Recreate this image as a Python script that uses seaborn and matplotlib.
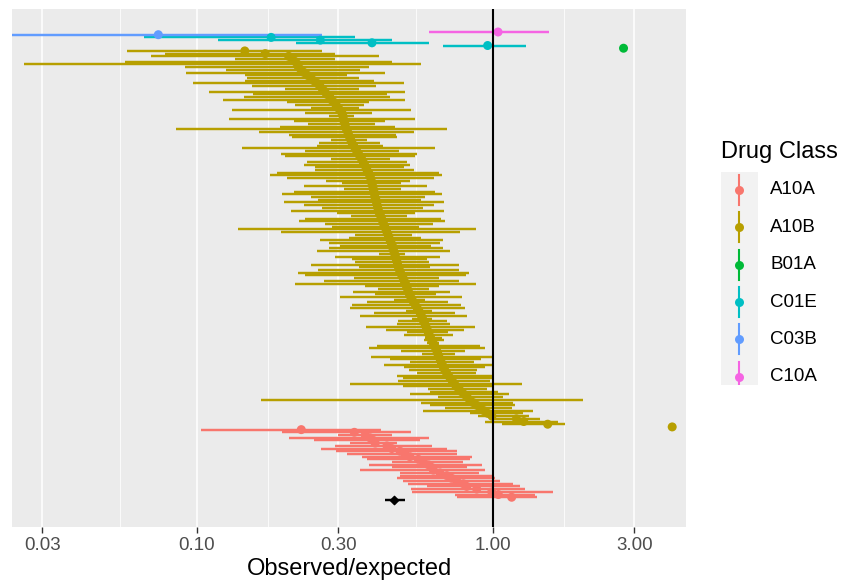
import numpy as np
import pandas as pd
import matplotlib.pyplot as plt
import matplotlib.ticker as mticker
import seaborn as sns

# Data (observed/expected ratio with 95% interval), rows listed top to bottom
classes = ["A10A", "A10B", "B01A", "C01E", "C03B", "C10A"]
palette = {"A10A": "#F8766D", "A10B": "#B79F00", "B01A": "#00BA38",
           "C01E": "#00BFC4", "C03B": "#619CFF", "C10A": "#F564E3"}

c10a_est = [1.04]
c10a_lo = [0.61]
c10a_hi = [1.55]

c03b_est = [0.074]
c03b_lo = [0.012]
c03b_hi = [0.264]

c01e_est = [0.178, 0.261, 0.390, 0.959]
c01e_lo = [0.066, 0.118, 0.216, 0.679]
c01e_hi = [0.341, 0.455, 0.609, 1.293]

b01a_est = [2.76]
b01a_lo = [np.nan]
b01a_hi = [np.nan]

a10b_est = [0.145, 0.170, 0.204, 0.210, 0.215, 0.219, 0.220, 0.225, 0.230, 0.236,
            0.242, 0.248, 0.255, 0.260, 0.265, 0.270, 0.274, 0.281, 0.284, 0.290,
            0.295, 0.300, 0.304, 0.309, 0.311, 0.312, 0.314, 0.316, 0.317, 0.320,
            0.323, 0.325, 0.328, 0.331, 0.334, 0.338, 0.342, 0.346, 0.351, 0.355,
            0.360, 0.364, 0.368, 0.372, 0.375, 0.380, 0.383, 0.386, 0.388, 0.390,
            0.392, 0.394, 0.396, 0.398, 0.399, 0.402, 0.404, 0.406, 0.408, 0.410,
            0.413, 0.417, 0.420, 0.424, 0.427, 0.431, 0.435, 0.438, 0.442, 0.445,
            0.449, 0.453, 0.457, 0.459, 0.462, 0.465, 0.468, 0.471, 0.474, 0.476,
            0.479, 0.483, 0.487, 0.492, 0.497, 0.501, 0.506, 0.510, 0.514, 0.518,
            0.522, 0.527, 0.533, 0.540, 0.547, 0.554, 0.561, 0.568, 0.573, 0.578,
            0.583, 0.589, 0.594, 0.599, 0.604, 0.609, 0.615, 0.621, 0.628, 0.635,
            0.640, 0.646, 0.651, 0.656, 0.663, 0.668, 0.674, 0.680, 0.687, 0.696,
            0.706, 0.717, 0.728, 0.740, 0.751, 0.767, 0.783, 0.800, 0.817, 0.834,
            0.856, 0.881, 0.906, 0.932, 0.961, 0.992, 1.20, 1.27, 1.53, 4.03]
a10b_lo = [0.058, 0.078, 0.070, 0.134, 0.057, 0.026, 0.091, 0.125, 0.092, 0.145,
           0.148, 0.145, 0.097, 0.153, 0.199, 0.110, 0.154, 0.144, 0.122, 0.202,
           0.215, 0.242, 0.131, 0.231, 0.279, 0.128, 0.213, 0.237, 0.190, 0.085,
           0.162, 0.205, 0.209, 0.284, 0.258, 0.255, 0.142, 0.232, 0.192, 0.199,
           0.284, 0.235, 0.229, 0.251, 0.251, 0.186, 0.176, 0.201, 0.273, 0.309,
           0.229, 0.313, 0.213, 0.193, 0.243, 0.257, 0.196, 0.229, 0.265, 0.207,
           0.298, 0.330, 0.231, 0.221, 0.271, 0.286, 0.138, 0.192, 0.343, 0.326,
           0.261, 0.279, 0.305, 0.279, 0.255, 0.411, 0.293, 0.334, 0.343, 0.243,
           0.352, 0.257, 0.220, 0.232, 0.339, 0.268, 0.215, 0.369, 0.409, 0.336,
           0.399, 0.305, 0.462, 0.375, 0.333, 0.328, 0.509, 0.395, 0.356, 0.533,
           0.478, 0.474, 0.373, 0.435, 0.512, 0.499, 0.591, 0.583, 0.599, 0.406,
           0.382, 0.489, 0.576, 0.388, 0.450, 0.526, 0.427, 0.501, 0.519, 0.555,
           0.473, 0.498, 0.479, 0.328, 0.498, 0.605, 0.613, 0.524, 0.653, 0.165,
           0.570, 0.613, 0.689, 0.580, 0.836, 0.892, 0.977, 0.940, 1.070, np.nan]
a10b_hi = [0.265, 0.293, 0.411, 0.292, 0.456, 0.573, 0.380, 0.356, 0.433, 0.322,
           0.352, 0.395, 0.499, 0.402, 0.352, 0.506, 0.439, 0.450, 0.504, 0.382,
           0.366, 0.352, 0.530, 0.390, 0.339, 0.546, 0.431, 0.400, 0.468, 0.699,
           0.539, 0.470, 0.474, 0.375, 0.416, 0.424, 0.639, 0.480, 0.554, 0.546,
           0.450, 0.512, 0.526, 0.499, 0.539, 0.656, 0.673, 0.631, 0.526, 0.489,
           0.599, 0.489, 0.639, 0.673, 0.591, 0.569, 0.681, 0.631, 0.580, 0.681,
           0.546, 0.512, 0.668, 0.686, 0.626, 0.561, 0.878, 0.776, 0.533, 0.573,
           0.677, 0.664, 0.619, 0.676, 0.718, 0.506, 0.664, 0.599, 0.606, 0.766,
           0.614, 0.769, 0.831, 0.812, 0.656, 0.766, 0.876, 0.656, 0.606, 0.718,
           0.642, 0.786, 0.591, 0.705, 0.782, 0.803, 0.623, 0.742, 0.818, 0.623,
           0.699, 0.718, 0.867, 0.796, 0.705, 0.731, 0.673, 0.681, 0.659, 0.906,
           0.942, 0.806, 0.746, 0.992, 0.913, 0.860, 0.992, 0.942, 0.883, 0.876,
           0.990, 0.990, 0.977, 1.250, 0.990, 0.952, 1.042, 1.135, 1.083, 2.018,
           1.172, 1.187, 1.156, 1.368, 1.266, 1.326, 1.441, 1.662, 1.750, np.nan]

a10a_est = [0.225, 0.340, 0.370, 0.384, 0.394, 0.400, 0.438, 0.455, 0.485, 0.504,
            0.524, 0.559, 0.582, 0.605, 0.621, 0.629, 0.662, 0.698, 0.725, 0.754,
            0.794, 0.815, 0.881, 0.990, 1.042, 1.156]
a10a_lo = [0.103, 0.194, 0.300, 0.204, 0.249, 0.329, 0.293, 0.262, 0.295, 0.322,
           0.360, 0.375, 0.455, 0.380, 0.455, 0.355, 0.485, 0.485, 0.473, 0.498,
           0.518, 0.597, 0.527, 0.531, 0.744, 0.754]
a10a_hi = [0.418, 0.527, 0.455, 0.609, 0.567, 0.473, 0.621, 0.698, 0.754, 0.757,
           0.847, 0.836, 0.794, 0.916, 0.815, 0.940, 0.899, 0.990, 1.016, 1.056,
           1.172, 1.234, 1.283, 1.598, 1.387, 1.405]

overall_est = 0.463
overall_lo = 0.432
overall_hi = 0.505

blocks = [("C10A", c10a_est, c10a_lo, c10a_hi),
          ("C03B", c03b_est, c03b_lo, c03b_hi),
          ("C01E", c01e_est, c01e_lo, c01e_hi),
          ("B01A", b01a_est, b01a_lo, b01a_hi),
          ("A10B", a10b_est, a10b_lo, a10b_hi),
          ("A10A", a10a_est, a10a_lo, a10a_hi)]
recs = []
for cls, est, lo, hi in blocks:
    for e, l, h in zip(est, lo, hi):
        recs.append((cls, e, l, h))
df = pd.DataFrame(recs, columns=["cls", "est", "lo", "hi"])
df["row"] = np.arange(len(df))
overall_row = len(df)

plt.rcParams['font.family'] = ['Liberation Sans', 'DejaVu Sans']

W, H = 846, 582
fig = plt.figure(figsize=(W / 100, H / 100), dpi=100)
ax = fig.add_axes([12 / W, (H - 527) / H, 674 / W, 518 / H])
ax.set_facecolor('#EBEBEB')
for s in ax.spines.values():
    s.set_visible(False)

# intervals
for cls in classes:
    sub = df[(df.cls == cls) & df.lo.notna()]
    ax.hlines(sub.row, sub.lo, sub.hi, color=palette[cls], lw=1.75, zorder=2)

# points
sns.scatterplot(data=df, x="est", y="row", hue="cls", palette=palette,
                s=42, linewidth=0, legend=False, ax=ax, zorder=3)

# overall estimate
ax.hlines([overall_row], [overall_lo], [overall_hi], color='black', lw=1.75, zorder=3)
ax.scatter([overall_est], [overall_row], marker='D', s=18, color='black', zorder=4)

ax.axvline(1.0, color='black', lw=1.5, zorder=5)

ax.set_xscale('log')
ax.set_xlim(0.02371, 4.487)
ax.set_ylim(overall_row + 10.0, -8.5)

ax.xaxis.set_major_locator(mticker.FixedLocator([0.03, 0.1, 0.3, 1.0, 3.0]))
ax.xaxis.set_major_formatter(mticker.FixedFormatter(['0.03', '0.10', '0.30', '1.00', '3.00']))
ax.xaxis.set_minor_locator(mticker.FixedLocator([0.0548, 0.1732, 0.5477, 1.732]))
ax.xaxis.set_minor_formatter(mticker.NullFormatter())
ax.set_yticks([])
ax.grid(which='major', axis='x', color='white', lw=1.1)
ax.grid(which='minor', axis='x', color='white', lw=0.55)
ax.set_axisbelow(True)
ax.tick_params(axis='x', which='major', length=4, width=1, color='#333333',
               labelcolor='#4D4D4D', labelsize=13.5, pad=3)
ax.tick_params(axis='x', which='minor', length=0)
ax.set_xlabel('Observed/expected', fontsize=17, labelpad=3)
ax.set_ylabel('')

# legend
lx0, lx1, ly0, ly1 = 720.7, 758.0, 171.7, 385.0
lax = fig.add_axes([lx0 / W, (H - ly1) / H, (lx1 - lx0) / W, (ly1 - ly0) / H])
lax.set_facecolor('#F2F2F2')
lax.set_xlim(0, 1)
lax.set_ylim(ly1, ly0)
lax.set_xticks([])
lax.set_yticks([])
for s in lax.spines.values():
    s.set_visible(False)
fig.text(lx0 / W, 1 - 151.7 / H, 'Drug Class', fontsize=17, va='center', ha='left')
for i, cls in enumerate(classes):
    yc = 190.0 + i * 37.35
    lax.plot([0.5, 0.5], [yc - 15, yc + 15], color=palette[cls], lw=1.5)
    lax.scatter([0.5], [yc], s=42, color=palette[cls], linewidth=0, zorder=3)
    fig.text(770 / W, 1 - yc / H, cls, fontsize=13.5, va='center', ha='left')

fig.savefig('out.png', dpi=100)
